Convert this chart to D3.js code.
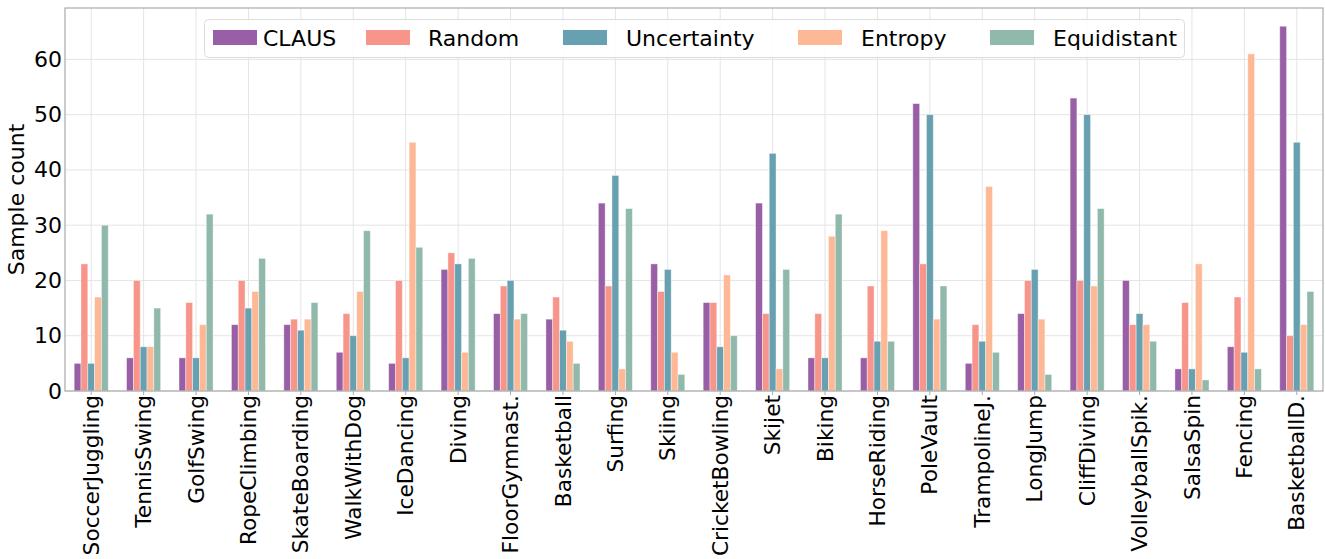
<!DOCTYPE html>
<html>
<head>
<meta charset="utf-8">
<script src="https://cdn.jsdelivr.net/npm/d3@7"></script>
<style>
  body { margin: 0; background: #fff; }
  text { font-family: "DejaVu Sans", sans-serif; }
</style>
</head>
<body>
<div id="chart"></div>
<script>
const categories = ["SoccerJuggling", "TennisSwing", "GolfSwing", "RopeClimbing", "SkateBoarding",
  "WalkWithDog", "IceDancing", "Diving", "FloorGymnast.", "Basketball", "Surfing", "Skiing",
  "CricketBowling", "Skijet", "Biking", "HorseRiding", "PoleVault", "TrampolineJ.", "LongJump",
  "CliffDiving", "VolleyballSpik.", "SalsaSpin", "Fencing", "BasketballD."];

const seriesNames = ["CLAUS", "Random", "Uncertainty", "Entropy", "Equidistant"];
const seriesColors = ["#995fa6", "#f7958b", "#67a0b0", "#fdb995", "#91b9ab"];

const claus       = [5, 6, 6, 12, 12, 7, 5, 22, 14, 13, 34, 23, 16, 34, 6, 6, 52, 5, 14, 53, 20, 4, 8, 66];
const random      = [23, 20, 16, 20, 13, 14, 20, 25, 19, 17, 19, 18, 16, 14, 14, 19, 23, 12, 20, 20, 12, 16, 17, 10];
const uncertainty = [5, 8, 6, 15, 11, 10, 6, 23, 20, 11, 39, 22, 8, 43, 6, 9, 50, 9, 22, 50, 14, 4, 7, 45];
const entropy     = [17, 8, 12, 18, 13, 18, 45, 7, 13, 9, 4, 7, 21, 4, 28, 29, 13, 37, 13, 19, 12, 23, 61, 12];
const equidistant = [30, 15, 32, 24, 16, 29, 26, 24, 14, 5, 33, 3, 10, 22, 32, 9, 19, 7, 3, 33, 9, 2, 4, 18];

const yTicks = [0, 10, 20, 30, 40, 50, 60];

const seriesValues = [claus, random, uncertainty, entropy, equidistant];

const width = 1325;
const height = 559;
const margin = { top: 8, right: 2, bottom: 168, left: 65 };

const svg = d3.select("#chart")
    .append("svg")
    .attr("width", width)
    .attr("height", height);

// Scales
const x = d3.scaleBand()
    .domain(categories)
    .range([margin.left, width - margin.right])
    .padding(0);

const barW = x.bandwidth() * 0.13;
const xInner = d3.scaleBand()
    .domain(seriesNames)
    .range([-2.5 * barW, 2.5 * barW]);

const y = d3.scaleLinear()
    .domain([0, 69.3])
    .range([height - margin.bottom, margin.top]);

const color = d3.scaleOrdinal().domain(seriesNames).range(seriesColors);

// Grid
const grid = svg.append("g").attr("class", "grid");
grid.selectAll(".vgrid")
    .data(categories)
  .enter().append("line")
    .attr("x1", d => x(d) + x.bandwidth() / 2)
    .attr("x2", d => x(d) + x.bandwidth() / 2)
    .attr("y1", margin.top)
    .attr("y2", height - margin.bottom)
    .attr("stroke", "#e4e4e4")
    .attr("stroke-width", 1);
grid.selectAll(".hgrid")
    .data(yTicks)
  .enter().append("line")
    .attr("x1", margin.left)
    .attr("x2", width - margin.right)
    .attr("y1", d => y(d))
    .attr("y2", d => y(d))
    .attr("stroke", "#e4e4e4")
    .attr("stroke-width", 1);

// Bars
const rows = [];
categories.forEach((c, i) => {
    seriesNames.forEach((s, j) => rows.push({ cat: c, series: s, value: seriesValues[j][i] }));
});

svg.append("g")
    .selectAll("rect")
    .data(rows)
  .enter().append("rect")
    .attr("x", d => x(d.cat) + x.bandwidth() / 2 + xInner(d.series))
    .attr("y", d => y(d.value))
    .attr("width", xInner.bandwidth())
    .attr("height", d => y(0) - y(d.value))
    .attr("fill", d => color(d.series))
    .attr("stroke", "#fff")
    .attr("stroke-opacity", 0.5)
    .attr("stroke-width", 0.8);

// Axes
const xAxis = svg.append("g")
    .attr("transform", `translate(0,${height - margin.bottom})`)
    .call(d3.axisBottom(x).tickSize(4).tickPadding(0));
xAxis.select(".domain").remove();
xAxis.selectAll(".tick line").attr("stroke", "#aaa");
xAxis.selectAll(".tick text")
    .attr("transform", "rotate(-90)")
    .attr("text-anchor", "end")
    .attr("x", -4)
    .attr("y", 0)
    .attr("dy", "0.35em")
    .style("font-size", "21.7px")
    .attr("fill", "#000");

const yAxis = svg.append("g")
    .attr("transform", `translate(${margin.left},0)`)
    .call(d3.axisLeft(y).tickValues(yTicks).tickSize(0).tickPadding(3));
yAxis.select(".domain").remove();
yAxis.selectAll(".tick text")
    .style("font-size", "22px")
    .attr("fill", "#000");

// Frame
svg.append("rect")
    .attr("x", margin.left)
    .attr("y", margin.top)
    .attr("width", width - margin.left - margin.right)
    .attr("height", height - margin.top - margin.bottom)
    .attr("fill", "none")
    .attr("stroke", "#aaa")
    .attr("stroke-width", 1.2);

// Y label
svg.append("text")
    .attr("transform", `translate(24,${(margin.top + height - margin.bottom) / 2}) rotate(-90)`)
    .attr("text-anchor", "middle")
    .style("font-size", "22px")
    .text("Sample count");

// Legend
const legendX = [213, 366, 563, 798, 990];
const textGap = [6, 18, 19, 19, 19];
const legend = svg.append("g");
legend.append("rect")
    .attr("x", 204.5)
    .attr("y", 19.5)
    .attr("width", 980)
    .attr("height", 38)
    .attr("rx", 4)
    .attr("fill", "#fff")
    .attr("fill-opacity", 0.85)
    .attr("stroke", "#ddd");

const items = legend.selectAll(".legend-item")
    .data(seriesNames)
  .enter().append("g")
    .attr("class", "legend-item")
    .attr("transform", (d, i) => `translate(${legendX[i]},0)`);

items.append("rect")
    .attr("x", 0)
    .attr("y", 30)
    .attr("width", 44)
    .attr("height", 15)
    .attr("fill", d => color(d));

items.append("text")
    .attr("x", (d, i) => 44 + textGap[i])
    .attr("y", 38)
    .attr("dy", "0.35em")
    .style("font-size", "22px")
    .text(d => d);
</script>
</body>
</html>
